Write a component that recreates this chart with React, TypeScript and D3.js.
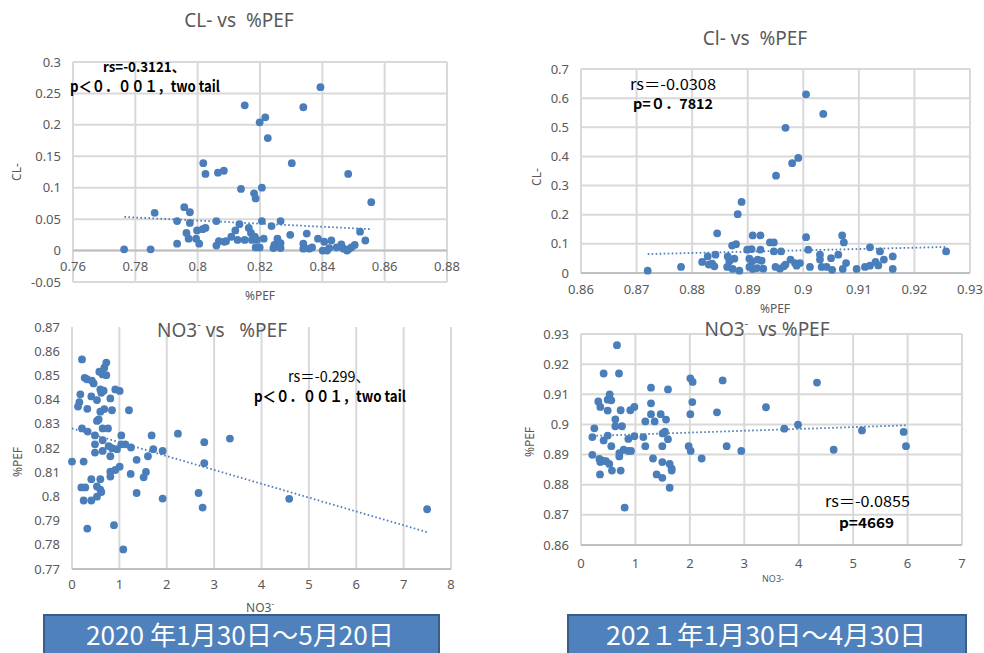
import React from "react";
import * as d3 from "d3";

// ---------- DATA ----------
// 2020: %PEF (x) vs CL- (y)
const cl2020: [number, number][] = [
  [0.8394, 0.26], [0.8151, 0.231], [0.8339, 0.228], [0.8217, 0.212], [0.8199, 0.204], [0.8225, 0.179],
  [0.8018, 0.139], [0.8025, 0.122], [0.8065, 0.124], [0.8084, 0.127], [0.8302, 0.139], [0.8483, 0.122],
  [0.8139, 0.098], [0.8206, 0.1], [0.8181, 0.091], [0.8186, 0.083], [0.8557, 0.077],
  [0.7862, 0.06], [0.7957, 0.069], [0.7975, 0.061], [0.7764, 0.002], [0.7849, 0.002],
  [0.7934, 0.047], [0.7975, 0.044], [0.806, 0.047], [0.8206, 0.047], [0.8266, 0.047],
  [0.7964, 0.028], [0.7971, 0.019], [0.7934, 0.011], [0.7995, 0.019], [0.8005, 0.011],
  [0.7998, 0.032], [0.8016, 0.034], [0.8025, 0.036],
  [0.806, 0.008], [0.8068, 0.015], [0.8086, 0.014], [0.8091, 0.015],
  [0.8108, 0.022], [0.8121, 0.032], [0.8128, 0.017], [0.8134, 0.042], [0.8151, 0.017], [0.8164, 0.036],
  [0.8171, 0.028], [0.8174, 0.017], [0.8183, 0.022], [0.819, 0.017],
  [0.8186, 0.005], [0.8199, 0.005], [0.8212, 0.019], [0.8237, 0.039],
  [0.8243, 0.004], [0.8246, 0.009], [0.8256, 0.019], [0.8266, 0.012], [0.8266, 0.004],
  [0.8297, 0.025], [0.8339, 0.011], [0.8339, 0.003], [0.835, 0.027], [0.8358, 0.003], [0.8367, 0.005],
  [0.8386, 0.019], [0.8401, 0.0], [0.8406, 0.014], [0.8415, 0.0], [0.8422, 0.004], [0.8429, 0.016],
  [0.8446, 0.005], [0.8461, 0.01], [0.8468, 0.003], [0.8479, 0.0], [0.8484, 0.002], [0.8493, 0.005], [0.8504, 0.009],
  [0.8521, 0.03], [0.8538, 0.016],
];

// 2021: %PEF (x) vs Cl- (y)
const cl2021: [number, number][] = [
  [0.9005, 0.613], [0.9036, 0.546], [0.8968, 0.498], [0.8991, 0.395], [0.898, 0.377], [0.8951, 0.334],
  [0.8889, 0.244], [0.8882, 0.202], [0.8845, 0.136],
  [0.8909, 0.129], [0.8923, 0.129], [0.9005, 0.123], [0.907, 0.129], [0.9073, 0.105], [0.894, 0.105], [0.8947, 0.105],
  [0.8872, 0.094], [0.8879, 0.099], [0.8899, 0.08], [0.8907, 0.082], [0.8923, 0.08], [0.8947, 0.074], [0.896, 0.074],
  [0.9009, 0.08], [0.912, 0.088], [0.9138, 0.074], [0.9257, 0.074],
  [0.872, 0.008], [0.878, 0.021], [0.8818, 0.038], [0.8828, 0.057], [0.8842, 0.063], [0.883, 0.029], [0.8836, 0.032], [0.884, 0.023],
  [0.8864, 0.057], [0.8867, 0.04], [0.8876, 0.049], [0.8863, 0.021], [0.8873, 0.014], [0.8885, 0.008],
  [0.8903, 0.049], [0.8908, 0.04], [0.8918, 0.046], [0.8925, 0.042], [0.8903, 0.021], [0.8909, 0.014], [0.8917, 0.017], [0.8928, 0.015],
  [0.895, 0.021], [0.8958, 0.015], [0.8965, 0.023], [0.8968, 0.029], [0.8977, 0.046], [0.8985, 0.034], [0.8994, 0.034], [0.8988, 0.025], [0.9012, 0.021],
  [0.903, 0.063], [0.903, 0.046], [0.9033, 0.021], [0.9042, 0.021], [0.905, 0.051], [0.9052, 0.011], [0.9063, 0.063], [0.9071, 0.014], [0.9077, 0.034],
  [0.9096, 0.014], [0.9111, 0.021], [0.912, 0.025], [0.913, 0.038], [0.9135, 0.026], [0.9145, 0.046], [0.9161, 0.057], [0.9161, 0.014],
];

// 2020: NO3- (x) vs %PEF (y)
const no3_2020: [number, number][] = [
  [0.211, 0.8566], [0.724, 0.8553], [0.682, 0.8532], [0.577, 0.8515], [0.647, 0.8504], [0.724, 0.8501], [0.267, 0.849], [0.316, 0.8484],
  [0.42, 0.8478], [0.457, 0.8467], [0.598, 0.8442], [0.668, 0.8437], [0.619, 0.8428], [0.914, 0.8442], [1.006, 0.8436], [0.176, 0.8422],
  [0.408, 0.8413], [0.527, 0.8398], [0.809, 0.8405], [0.155, 0.8389], [0.127, 0.8371], [0.323, 0.8362], [0.598, 0.835], [0.682, 0.8361],
  [0.844, 0.8356], [1.203, 0.8356], [0.527, 0.8312], [0.563, 0.8318], [0.647, 0.8281], [0.76, 0.8281], [0.211, 0.8281], [0.331, 0.8268],
  [0.485, 0.8252], [1.041, 0.8252], [1.681, 0.8252], [2.236, 0.8259], [2.792, 0.8224], [3.333, 0.8239],
  [0.647, 0.8232], [0.485, 0.8215], [0.774, 0.8208], [0.844, 0.8199], [0.949, 0.8195], [1.041, 0.8215], [1.125, 0.8215], [1.245, 0.8202],
  [0.647, 0.8188], [0.485, 0.8181], [0.809, 0.8166], [1.716, 0.8195], [1.913, 0.8188], [1.364, 0.8151], [1.603, 0.8166],
  [0.0, 0.8144], [0.246, 0.8144], [2.792, 0.8137], [1.006, 0.8123], [0.914, 0.8109], [0.809, 0.8102], [0.809, 0.8082], [1.238, 0.8093],
  [1.561, 0.8101], [1.512, 0.8079], [0.408, 0.8071], [0.598, 0.8071], [0.197, 0.8037], [0.281, 0.8037], [0.527, 0.8041], [0.598, 0.8028],
  [0.619, 0.8018], [1.364, 0.8014], [2.672, 0.8014], [0.246, 0.7983], [0.408, 0.7983], [0.527, 0.7999], [1.913, 0.7991], [2.757, 0.7954],
  [0.323, 0.7867], [0.886, 0.7881], [1.083, 0.7781], [4.585, 0.799], [7.496, 0.7947],
];

// 2021: NO3- (x) vs %PEF (y)
const no3_2021: [number, number][] = [
  [0.661, 0.9263], [0.416, 0.9169], [0.698, 0.9169], [2.009, 0.9153], [2.051, 0.9141], [2.603, 0.9146], [1.286, 0.9122], [1.598, 0.9116],
  [3.398, 0.9057], [0.527, 0.91], [0.49, 0.9082], [0.557, 0.908], [0.318, 0.9076], [0.355, 0.9058], [0.49, 0.9046], [0.729, 0.9047],
  [0.906, 0.9047], [0.98, 0.9058], [1.286, 0.907], [2.045, 0.9074], [2.498, 0.904], [2.009, 0.9034], [1.286, 0.9034], [1.464, 0.9034],
  [1.182, 0.901], [1.353, 0.901], [1.562, 0.9016], [0.631, 0.9017], [0.245, 0.8987], [0.631, 0.8994], [0.753, 0.8994], [1.5, 0.897],
  [1.543, 0.8976], [0.208, 0.8958], [0.49, 0.8963], [0.416, 0.8947], [0.87, 0.8952], [0.98, 0.8961], [1.145, 0.8958], [0.557, 0.8928],
  [1.182, 0.8928], [1.494, 0.8928], [1.598, 0.8951], [1.978, 0.8928], [2.015, 0.8912], [2.676, 0.8928], [2.945, 0.8912],
  [0.208, 0.8899], [0.704, 0.8905], [0.784, 0.8916], [0.87, 0.8912], [0.919, 0.8912], [0.704, 0.8894],
  [0.337, 0.8886], [0.398, 0.888], [0.459, 0.8878], [0.52, 0.8869], [0.355, 0.8875], [0.569, 0.8847], [0.729, 0.8847], [0.349, 0.8834],
  [1.323, 0.8887], [1.494, 0.8875], [1.629, 0.8869], [1.666, 0.8853], [1.666, 0.8847], [1.39, 0.8834], [1.494, 0.8823], [2.217, 0.8887],
  [1.629, 0.879], [0.802, 0.8724], [3.735, 0.8986], [3.987, 0.8999], [4.336, 0.9139], [4.642, 0.8916], [5.162, 0.898], [5.928, 0.8975],
  [5.971, 0.8928],
];

// Linear trend lines (start / end values)
const trendCl2020: [number, number][] = [[0.7765, 0.0535], [0.856, 0.034]];
const trendCl2021: [number, number][] = [[0.872, 0.065], [0.9259, 0.0895]];
const trendNo3_2020: [number, number][] = [[0.0, 0.8281], [7.5, 0.7852]];
const trendNo3_2021: [number, number][] = [[0.208, 0.8962], [5.97, 0.8997]];

// Tick values
const xTicksCl2020 = [0.76, 0.78, 0.8, 0.82, 0.84, 0.86, 0.88];
const yTicksCl2020 = [-0.05, 0, 0.05, 0.1, 0.15, 0.2, 0.25, 0.3];
const xTicksCl2021 = [0.86, 0.87, 0.88, 0.89, 0.9, 0.91, 0.92, 0.93];
const yTicksCl2021 = [0, 0.1, 0.2, 0.3, 0.4, 0.5, 0.6, 0.7];
const xTicksNo3_2020 = [0, 1, 2, 3, 4, 5, 6, 7, 8];
const yTicksNo3_2020 = [0.77, 0.78, 0.79, 0.8, 0.81, 0.82, 0.83, 0.84, 0.85, 0.86, 0.87];
const xTicksNo3_2021 = [0, 1, 2, 3, 4, 5, 6, 7];
const yTicksNo3_2021 = [0.86, 0.87, 0.88, 0.89, 0.9, 0.91, 0.92, 0.93];

// Texts
const titles = ["CL- vs  %PEF", "Cl- vs  %PEF", " vs   %PEF", "  vs %PEF"];
const statsRs = ["rs=-0.3121、", "rs＝-0.0308", "rs＝-0.299、", "rs＝-0.0855"];
const statsP = ["p＜０．００１，two tail", "p=０．7812", "p＜０．００１，two tail", "p=4669"];
const periods = ["2020 年1月30日～5月20日", "202１年1月30日～4月30日"];

// ---------- STYLE ----------
const DOT = "#4a7ebb";
const GRID = "#d9d9d9";
const AXIS = "#bfbfbf";
const TXT = "#595959";
const FONT = "'Noto Sans', 'Noto Sans CJK JP', sans-serif";
const CJK = "'Noto Sans CJK JP', 'Noto Sans', sans-serif";
const PRE = { whiteSpace: "pre" as const };

const fmt = (v: number) => String(Math.round(v * 1000) / 1000);

type PanelProps = {
  data: [number, number][];
  trend: [number, number][];
  xTicks: number[];
  yTicks: number[];
  left: number;
  right: number;
  top: number;
  bottom: number;
  hGrid: boolean;
  axisY: number;
  xTickBaseline: number;
};

function Panel(p: PanelProps) {
  const xDom = d3.extent(p.xTicks) as [number, number];
  const yDom = d3.extent(p.yTicks) as [number, number];
  const xs = d3.scaleLinear().domain(xDom).range([p.left, p.right]);
  const ys = d3.scaleLinear().domain(yDom).range([p.bottom, p.top]);
  const line = d3
    .line<[number, number]>()
    .x((d) => xs(d[0]))
    .y((d) => ys(d[1]));
  return (
    <g>
      {p.xTicks.map((t) => (
        <line key={"vx" + t} x1={xs(t)} x2={xs(t)} y1={p.top} y2={p.bottom} stroke={GRID} strokeWidth={2} />
      ))}
      {p.hGrid &&
        p.yTicks.map((t) => (
          <line key={"hy" + t} x1={p.left} x2={p.right} y1={ys(t)} y2={ys(t)} stroke={GRID} strokeWidth={2} />
        ))}
      <line x1={p.left} x2={p.right} y1={ys(p.axisY)} y2={ys(p.axisY)} stroke={AXIS} strokeWidth={2} />
      {p.yTicks.map((t) => (
        <text key={"ly" + t} x={p.left - 12} y={ys(t) + 4.5} textAnchor="end" fontSize={13} fill={TXT} fontFamily={FONT}>
          {fmt(t)}
        </text>
      ))}
      {p.xTicks.map((t) => (
        <text key={"lx" + t} x={xs(t)} y={p.xTickBaseline} textAnchor="middle" fontSize={13} fill={TXT} fontFamily={FONT}>
          {fmt(t)}
        </text>
      ))}
      <path d={line(p.trend) || ""} fill="none" stroke={DOT} strokeWidth={1.8} strokeDasharray="1.6 2.4" />
      {p.data.map((d, i) => (
        <circle key={i} cx={xs(d[0])} cy={ys(d[1])} r={3.9} fill={DOT} />
      ))}
    </g>
  );
}

function NO3Title({ x, y, size, rest }: { x: number; y: number; size: number; rest: string }) {
  return (
    <text x={x} y={y} textAnchor="middle" fontSize={size} fill={TXT} fontFamily={FONT} style={PRE}>
      NO3
      <tspan fontSize={size * 0.6} dy={-size * 0.45}>-</tspan>
      <tspan dy={size * 0.45}>{rest}</tspan>
    </text>
  );
}

export default function App() {
  return (
    <svg
      width={984}
      height={653}
      viewBox="0 0 984 653"
      style={{ position: "absolute", left: 0, top: 0, background: "#fff" }}
    >
      <rect x={0} y={0} width={984} height={653} fill="#fff" />

      {/* Panel 1: 2020 CL- vs %PEF */}
      <text x={239} y={27} textAnchor="middle" fontSize={19} fill={TXT} fontFamily={FONT} style={PRE}>{titles[0]}</text>
      <Panel data={cl2020} trend={trendCl2020} xTicks={xTicksCl2020} yTicks={yTicksCl2020}
        left={73} right={447} top={62} bottom={282} hGrid={true} axisY={0} xTickBaseline={271} />
      <text transform="translate(21,172) rotate(-90)" textAnchor="middle" fontSize={12} fill={TXT} fontFamily={FONT}>CL-</text>
      <text x={260} y={300} textAnchor="middle" fontSize={12} fill={TXT} fontFamily={FONT}>%PEF</text>
      <text x={103} y={72} fontSize={14} fontWeight="bold" fill="#000" fontFamily={CJK} textLength={82} lengthAdjust="spacingAndGlyphs">{statsRs[0]}</text>
      <text x={70} y={92} fontSize={15} fontWeight="bold" fill="#000" fontFamily={CJK} textLength={150} lengthAdjust="spacingAndGlyphs">{statsP[0]}</text>

      {/* Panel 2: 2021 Cl- vs %PEF */}
      <text x={755} y={45} textAnchor="middle" fontSize={19} fill={TXT} fontFamily={FONT} style={PRE}>{titles[1]}</text>
      <Panel data={cl2021} trend={trendCl2021} xTicks={xTicksCl2021} yTicks={yTicksCl2021}
        left={581} right={970} top={69} bottom={273} hGrid={true} axisY={0} xTickBaseline={294} />
      <text transform="translate(541,177) rotate(-90)" textAnchor="middle" fontSize={12} fill={TXT} fontFamily={FONT}>CL-</text>
      <text x={775} y={313} textAnchor="middle" fontSize={12} fill={TXT} fontFamily={FONT}>%PEF</text>
      <text x={630} y={90} fontSize={15} fill="#000" fontFamily={CJK} textLength={86} lengthAdjust="spacingAndGlyphs">{statsRs[1]}</text>
      <text x={633} y={109} fontSize={14} fontWeight="bold" fill="#000" fontFamily={CJK} textLength={80} lengthAdjust="spacingAndGlyphs">{statsP[1]}</text>

      {/* Panel 3: 2020 NO3- vs %PEF */}
      <Panel data={no3_2020} trend={trendNo3_2020} xTicks={xTicksNo3_2020} yTicks={yTicksNo3_2020}
        left={72} right={451} top={327} bottom={569} hGrid={false} axisY={0.77} xTickBaseline={589} />
      <NO3Title x={222} y={337} size={19} rest={titles[2]} />
      <text transform="translate(22,462) rotate(-90)" textAnchor="middle" fontSize={12} fill={TXT} fontFamily={FONT}>%PEF</text>
      <text x={260} y={612} textAnchor="middle" fontSize={12} fill={TXT} fontFamily={FONT}>
        NO3<tspan fontSize={8} dy={-5}>-</tspan>
      </text>
      <text x={288} y={382} fontSize={15} fill="#000" fontFamily={CJK} textLength={82} lengthAdjust="spacingAndGlyphs">{statsRs[2]}</text>
      <text x={254} y={402} fontSize={15} fontWeight="bold" fill="#000" fontFamily={CJK} textLength={152} lengthAdjust="spacingAndGlyphs">{statsP[2]}</text>

      {/* Panel 4: 2021 NO3- vs %PEF */}
      <Panel data={no3_2021} trend={trendNo3_2021} xTicks={xTicksNo3_2021} yTicks={yTicksNo3_2021}
        left={581} right={962} top={334} bottom={545} hGrid={true} axisY={0.86} xTickBaseline={568} />
      <NO3Title x={767} y={336} size={19} rest={titles[3]} />
      <text transform="translate(534,442) rotate(-90)" textAnchor="middle" fontSize={12} fill={TXT} fontFamily={FONT}>%PEF</text>
      <text x={773} y={582} textAnchor="middle" fontSize={9} fill={TXT} fontFamily={FONT}>NO3-</text>
      <text x={825} y={507} fontSize={15} fill="#000" fontFamily={CJK} textLength={85} lengthAdjust="spacingAndGlyphs">{statsRs[3]}</text>
      <text x={839} y={528} fontSize={14} fontWeight="bold" fill="#000" fontFamily={CJK} textLength={55} lengthAdjust="spacingAndGlyphs">{statsP[3]}</text>

      {/* Period boxes */}
      <rect x={44} y={615} width={395} height={45} fill="#4f81bd" stroke="#385d8a" strokeWidth={2} />
      <text x={240} y={645} textAnchor="middle" fontSize={26} fill="#fff" fontFamily={CJK} style={PRE} textLength={308} lengthAdjust="spacingAndGlyphs">{periods[0]}</text>
      <rect x={568} y={615} width={398} height={45} fill="#4f81bd" stroke="#385d8a" strokeWidth={2} />
      <text x={766} y={645} textAnchor="middle" fontSize={26} fill="#fff" fontFamily={CJK} style={PRE} textLength={320} lengthAdjust="spacingAndGlyphs">{periods[1]}</text>
    </svg>
  );
}
